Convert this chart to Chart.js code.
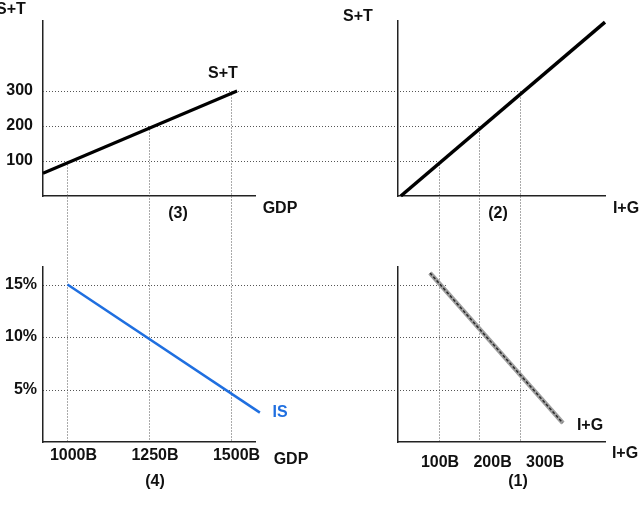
<!DOCTYPE html>
<html>
<head>
<meta charset="utf-8">
<script src="https://cdn.jsdelivr.net/npm/chart.js@4.4.0/dist/chart.umd.min.js"></script>
<style>
  html, body { margin: 0; padding: 0; background: #fff; }
  #wrap { position: relative; width: 644px; height: 508px; overflow: hidden; }
  #wrap canvas { position: absolute; left: 0; top: 0; }
</style>
</head>
<body>
<div id="wrap">
  <canvas id="q3" width="644" height="508"></canvas>
  <canvas id="q2" width="644" height="508"></canvas>
  <canvas id="q4" width="644" height="508"></canvas>
  <canvas id="q1" width="644" height="508"></canvas>
</div>
<script>
// (3) S+T against GDP
var stGdp = [925, 1520];
var stVals = [65, 300];
// (2) S+T = I+G line
var lineIG = [7, 511];
var lineST = [0, 497];
// (1) I+G against interest rate
var igVals = [79, 407];
var igRates = [16.1, 1.8];
// (4) IS curve
var isGdp = [1000, 1590];
var isRates = [15, 2.8];

// one entry per step of the construction
var gdpLevels = [1000, 1250, 1500];
var stLevels = [100, 200, 300];
var igLevels = [100, 200, 300];
var rateLevels = [15, 10, 5];

var gdpTicks = ['1000B', '1250B', '1500B'];
var igTicks = ['100B', '200B', '300B'];

Chart.defaults.font.family = '"Liberation Sans", Arial, sans-serif';
Chart.defaults.font.size = 16;
Chart.defaults.font.weight = 'bold';
Chart.defaults.color = '#111';

function pts(xs, ys) {
  return xs.map(function (x, i) { return { x: x, y: ys[i] }; });
}

var axisBorder = { color: '#222', width: 1.5 };
var noGrid = { drawOnChartArea: false, drawTicks: false };

function baseOptions(pad, scales) {
  return {
    responsive: false,
    animation: false,
    devicePixelRatio: 1,
    layout: { padding: pad },
    plugins: { legend: { display: false }, tooltip: { enabled: false } },
    elements: { point: { radius: 0 } },
    scales: scales
  };
}

// text around the four panels
var notes = [
  ['S+T', -4, 10, 'left', '#111'],
  ['S+T', 223, 74, 'center', '#111'],
  ['GDP', 280, 209, 'center', '#111'],
  ['(3)', 178, 214, 'center', '#111'],
  ['S+T', 358, 17, 'center', '#111'],
  ['(2)', 498, 214, 'center', '#111'],
  ['I+G', 626, 209, 'center', '#111'],
  ['IS', 280, 413, 'center', '#1f6fe0'],
  ['GDP', 291, 460, 'center', '#111'],
  ['(4)', 155, 482, 'center', '#111'],
  ['I+G', 590, 426, 'center', '#111'],
  ['I+G', 625, 454, 'center', '#111'],
  ['(1)', 518, 482, 'center', '#111']
];

var notePlugin = {
  id: 'notes',
  afterDraw: function (chart) {
    var ctx = chart.ctx;
    ctx.save();
    ctx.font = 'bold 16px "Liberation Sans", Arial, sans-serif';
    ctx.textBaseline = 'middle';
    notes.forEach(function (n) {
      ctx.fillStyle = n[4];
      ctx.textAlign = n[3];
      ctx.fillText(n[0], n[1], n[2]);
    });
    ctx.restore();
  }
};

function crisp(v) { return Math.round(v) + 0.5; }
function seg(ctx, x1, y1, x2, y2) {
  ctx.beginPath();
  ctx.moveTo(x1, y1);
  ctx.lineTo(x2, y2);
  ctx.stroke();
}

// dotted guide lines joining the panels, drawn under everything
var guidePlugin = {
  id: 'guides',
  beforeDatasetsDraw: function (chart) {
    var c4 = Chart.getChart('q4'), c1 = Chart.getChart('q1');
    if (!c4 || !c1) return;
    var ctx = chart.ctx;
    ctx.save();
    ctx.strokeStyle = '#555';
    ctx.lineWidth = 1;
    ctx.setLineDash([1, 2]);
    for (var i = 0; i < stLevels.length; i++) {
      var yS = crisp(chart.scales.y.getPixelForValue(stLevels[i]));
      var xG = crisp(chart.scales.x.getPixelForValue(gdpLevels[i]));
      var xI = crisp(c1.scales.x.getPixelForValue(igLevels[i]));
      var yR = crisp(c4.scales.y.getPixelForValue(rateLevels[i]));
      seg(ctx, chart.chartArea.left, yS, xI, yS);
      seg(ctx, xG, yS, xG, c4.chartArea.bottom);
      seg(ctx, xI, yS, xI, c1.chartArea.bottom);
      seg(ctx, c4.chartArea.left, yR, xI + 7, yR);
    }
    ctx.restore();
  }
};

// (2) top right
new Chart(document.getElementById('q2'), {
  type: 'scatter',
  data: { datasets: [{ data: pts(lineIG, lineST), showLine: true, borderColor: '#000', borderWidth: 3.5, clip: false }] },
  options: baseOptions({ left: 398, right: 39, top: 21, bottom: 312 }, {
    x: { min: 0, max: 511, ticks: { display: false }, grid: noGrid, border: axisBorder,
         afterFit: function (s) { s.height = 0; } },
    y: { min: 0, max: 500, ticks: { display: false }, grid: noGrid, border: axisBorder,
         afterFit: function (s) { s.width = 0; } }
  })
});

// (4) bottom left
new Chart(document.getElementById('q4'), {
  type: 'scatter',
  data: { datasets: [{ data: pts(isGdp, isRates), showLine: true, borderColor: '#1f6fe0', borderWidth: 2.5, clip: false }] },
  options: baseOptions({ left: 0, right: 389, top: 267, bottom: 36 }, {
    x: { min: 925, max: 1575, grid: noGrid, border: axisBorder,
         afterBuildTicks: function (s) { s.ticks = gdpLevels.map(function (v) { return { value: v }; }); },
         ticks: { padding: 4, labelOffset: 6, maxRotation: 0, autoSkip: false,
                  callback: function (v, i) { return gdpTicks[i]; } },
         afterFit: function (s) { s.height = 30; } },
    y: { min: 0, max: 16.67, grid: noGrid, border: axisBorder,
         afterBuildTicks: function (s) { s.ticks = rateLevels.map(function (v) { return { value: v }; }); },
         ticks: { padding: 6, callback: function (v) { return v + '%'; } },
         afterFit: function (s) { s.width = 43; } }
  })
});

// (1) bottom right, 'xl' only carries the B labels
new Chart(document.getElementById('q1'), {
  type: 'scatter',
  data: { datasets: [
    { data: pts(igVals, igRates), showLine: true, borderColor: '#2a2a2a', borderWidth: 1.5, borderDash: [3, 2], order: 0, clip: false },
    { data: pts(igVals, igRates), showLine: true, borderColor: '#a0a0a0', borderWidth: 4.5, order: 1, clip: false }
  ] },
  options: baseOptions({ left: 398, right: 39, top: 267, bottom: 36 }, {
    x: { display: false, min: 0, max: 511 },
    xl: { type: 'linear', position: 'bottom', min: 20, max: 414, grid: noGrid, border: axisBorder,
          afterBuildTicks: function (s) { s.ticks = igLevels.map(function (v) { return { value: v }; }); },
          ticks: { padding: 11, maxRotation: 0, autoSkip: false,
                   callback: function (v, i) { return igTicks[i]; } },
          afterFit: function (s) { s.height = 30; } },
    y: { min: 0, max: 16.67, ticks: { display: false }, grid: noGrid, border: axisBorder,
         afterFit: function (s) { s.width = 0; } }
  }),
  plugins: [notePlugin]
});

// (3) top left, created last so the guides can read the other panels
new Chart(document.getElementById('q3'), {
  type: 'scatter',
  data: { datasets: [{ data: pts(stGdp, stVals), showLine: true, borderColor: '#000', borderWidth: 3, clip: false }] },
  options: baseOptions({ left: 0, right: 389, top: 21, bottom: 312 }, {
    x: { min: 925, max: 1575, ticks: { display: false }, grid: noGrid, border: axisBorder,
         afterFit: function (s) { s.height = 0; } },
    y: { min: 0, max: 500, grid: noGrid, border: axisBorder,
         afterBuildTicks: function (s) { s.ticks = stLevels.map(function (v) { return { value: v }; }); },
         ticks: { padding: 10 },
         afterFit: function (s) { s.width = 43; } }
  }),
  plugins: [guidePlugin]
});
</script>
</body>
</html>
